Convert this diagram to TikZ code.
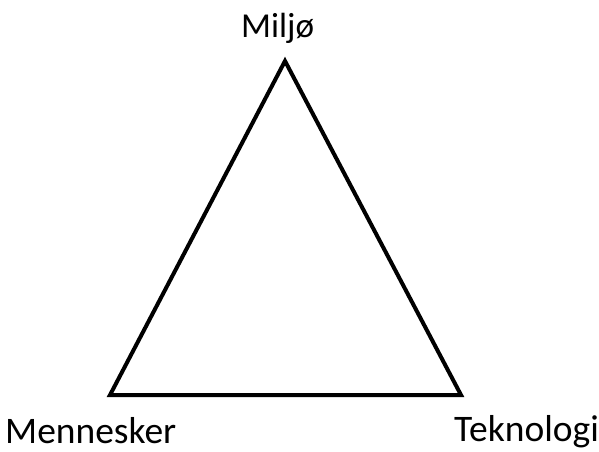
\documentclass[tikz,border=0pt]{standalone}
\usepackage{fontspec}
\setmainfont{Carlito}
\begin{document}
\begin{tikzpicture}[x=1pt,y=-1pt,
  lbl/.style={inner sep=0pt, text=black},
  edge/.style={line width=4pt, line join=miter}]
\useasboundingbox (0,0) rectangle (599,451);
\coordinate (top) at (285,61);
\coordinate (bl) at (110,395);
\coordinate (br) at (461,395);
\draw[edge] (top) -- (bl) -- (br) -- cycle;
\node[lbl, anchor=base west, font=\fontsize{35}{35}\selectfont] (miljo) at (241,37) {Miljø};
\node[lbl, anchor=base west, font=\fontsize{37.5}{37.5}\selectfont] (menn) at (5,443) {Mennesker};
\node[lbl, anchor=base west, font=\fontsize{37.5}{37.5}\selectfont] (tekn) at (454,441) {Teknologi};
\end{tikzpicture}
\end{document}
